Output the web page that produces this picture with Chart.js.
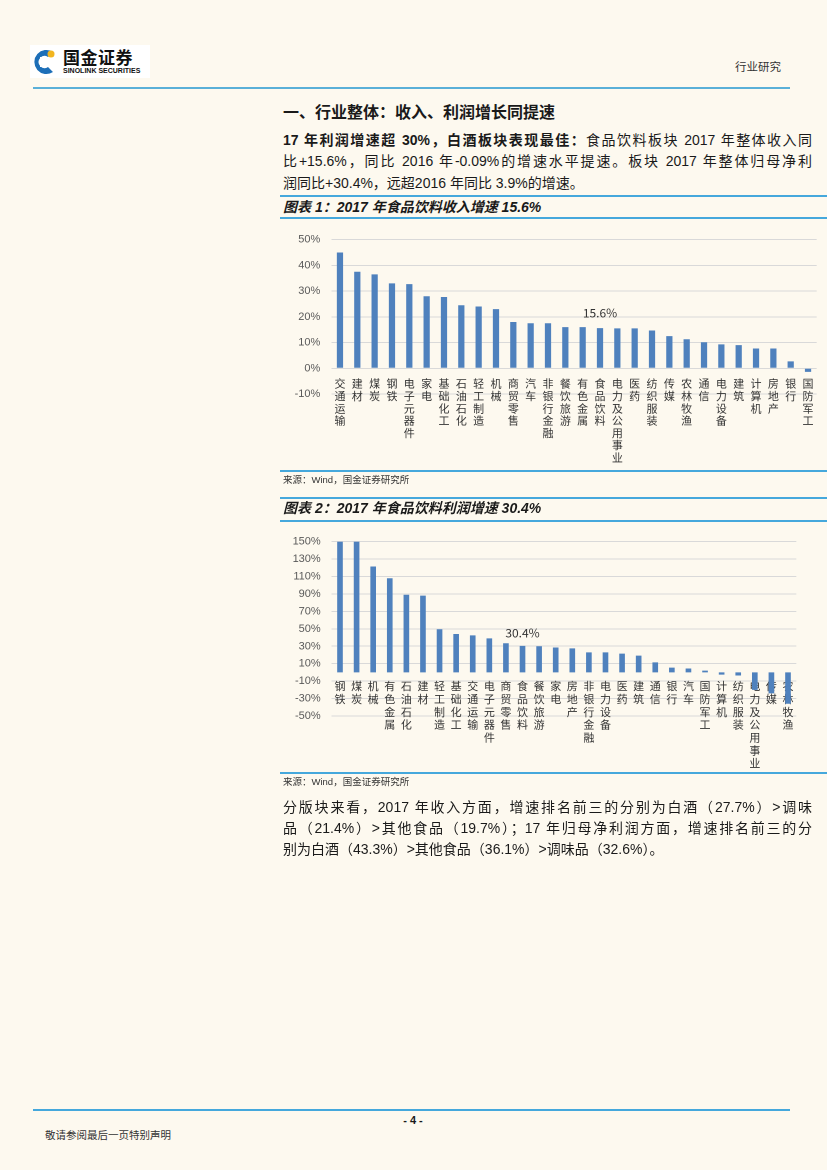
<!DOCTYPE html>
<html><head><meta charset="utf-8">
<script src="https://cdn.jsdelivr.net/npm/chart.js@4.4.1/dist/chart.umd.min.js"></script>
<style>
html,body{margin:0;padding:0;}
body{width:827px;height:1170px;background:#fdf9ef;position:relative;overflow:hidden;font-family:"Liberation Sans","Noto Sans CJK SC",sans-serif;color:#1a1a1a;}
.a{position:absolute;white-space:nowrap;}
.hl{position:absolute;height:2px;background:#45a8dc;}
.pl{position:absolute;left:283px;width:529px;font-size:14px;line-height:21px;text-align:justify;text-align-last:justify;white-space:nowrap;}
.pl.last{text-align-last:left;}
.ft{position:absolute;left:283px;font-size:14px;font-weight:bold;font-style:italic;line-height:20px;}
.src{position:absolute;left:283px;font-size:9.5px;line-height:12px;color:#333;}
canvas{position:absolute;}
</style>
</head><body>

<!-- header -->
<div class="a" style="left:30px;top:45px;width:120px;height:33px;background:#ffffff;"></div>
<svg class="a" style="left:31px;top:46px" width="28" height="31" viewBox="0 0 28 31">
  <path d="M22 6 A12 12 0 1 0 22 26 L17 21 A6 6 0 1 1 17 11 Z" fill="#1d6fb8"/>
  <rect x="9" y="11" width="8" height="10" fill="#ffffff"/>
  <circle cx="20" cy="8" r="3.5" fill="#f2b51f"/>
</svg>
<div class="a" style="left:63px;top:47px;font-size:17px;font-weight:bold;line-height:20px;font-family:'Noto Sans CJK SC';letter-spacing:0.5px;color:#111;">国金证券</div>
<div class="a" style="left:63px;top:67px;font-size:7px;font-weight:bold;line-height:8px;color:#111;">SINOLINK SECURITIES</div>
<div class="a" style="left:735px;top:59px;font-size:11.5px;line-height:14px;color:#333;font-family:'Noto Sans CJK SC';">行业研究</div>
<div class="hl" style="left:33px;top:87px;width:757px;background:#5ab0d8;"></div>

<!-- heading -->
<div class="a" style="left:283px;top:100px;font-size:16px;font-weight:bold;line-height:22px;font-family:'Noto Sans CJK SC';">一、行业整体：收入、利润增长同提速</div>

<div class="pl" style="top:129.5px;"><b>17 年利润增速超 30%，白酒板块表现最佳：</b>食品饮料板块 2017 年整体收入同</div>
<div class="pl" style="top:151px;">比+15.6%，同比 2016 年-0.09%的增速水平提速。板块 2017 年整体归母净利</div>
<div class="pl last" style="top:172.5px;">润同比+30.4%，远超2016 年同比 3.9%的增速。</div>

<div class="hl" style="left:280px;top:195px;width:547px;"></div>
<div class="ft" style="top:197px;">图表 1：2017 年食品饮料收入增速 15.6%</div>
<div class="hl" style="left:280px;top:217px;width:547px;"></div>

<canvas id="c1" style="left:270px;top:222px;width:557px;height:250px;" width="557" height="250"></canvas>

<div class="hl" style="left:280px;top:470px;width:547px;"></div>
<div class="src" style="top:474px;">来源：Wind，国金证券研究所</div>

<div class="hl" style="left:280px;top:497px;width:547px;"></div>
<div class="ft" style="top:498px;">图表 2：2017 年食品饮料利润增速 30.4%</div>
<div class="hl" style="left:280px;top:520px;width:547px;"></div>

<canvas id="c2" style="left:270px;top:524px;width:557px;height:250px;" width="557" height="250"></canvas>

<div class="hl" style="left:280px;top:772px;width:547px;"></div>
<div class="src" style="top:776px;">来源：Wind，国金证券研究所</div>

<div class="pl" style="top:796.5px;">分版块来看，2017 年收入方面，增速排名前三的分别为白酒（27.7%）&gt;调味</div>
<div class="pl" style="top:817.5px;">品（21.4%）&gt;其他食品（19.7%）；17 年归母净利润方面，增速排名前三的分</div>
<div class="pl last" style="top:838.5px;">别为白酒（43.3%）&gt;其他食品（36.1%）&gt;调味品（32.6%）。</div>

<!-- footer -->
<div class="hl" style="left:33px;top:1109px;width:757px;"></div>
<div class="a" style="left:398px;top:1113px;width:30px;text-align:center;font-size:11px;font-weight:bold;line-height:14px;">- 4 -</div>
<div class="a" style="left:45px;top:1128px;font-size:10.5px;line-height:14px;color:#333;font-family:'Noto Sans CJK SC';">敬请参阅最后一页特别声明</div>

<script>
// ---- Chart 1: 2017 revenue growth by sector ----
const revCategories = ["交通运输","建材","煤炭","钢铁","电子元器件","家电","基础化工","石油石化","轻工制造","机械","商贸零售","汽车","非银行金融","餐饮旅游","有色金属","食品饮料","电力及公用事业","医药","纺织服装","传媒","农林牧渔","通信","电力设备","建筑","计算机","房地产","银行","国防军工"];
const revValues = [45, 37.5, 36.5, 33, 32.7, 28, 27.7, 24.5, 24, 23, 18, 17.5, 17.5, 16, 16, 15.6, 15.5, 15.5, 14.7, 12.5, 11.3, 10.1, 9.3, 9, 7.7, 7.7, 2.7, -1.4];
const revTicks = {min: -10, max: 50, step: 10};
const revHighlight = "食品饮料";

// ---- Chart 2: 2017 net profit growth by sector ----
const profitCategories = ["钢铁","煤炭","机械","有色金属","石油石化","建材","轻工制造","基础化工","交通运输","电子元器件","商贸零售","食品饮料","餐饮旅游","家电","房地产","非银行金融","电力设备","医药","建筑","通信","银行","汽车","国防军工","计算机","纺织服装","电力及公用事业","传媒","农林牧渔"];
const profitValues = [150, 150, 121.5, 108, 89, 88, 49.5, 44, 42.5, 39, 33.5, 30.4, 30, 28.5, 27.5, 23, 23, 21.5, 19.3, 11.5, 5.5, 4.5, 2, -2.5, -3.5, -20, -24, -36];
const profitTicks = {min: -50, max: 150, step: 20};
const profitHighlight = "食品饮料";

const BAR_COLOR = "#4f81bd";

const valueLabel = {
  id: "valueLabel",
  afterDatasetsDraw(chart, args, opts) {
    const meta = chart.getDatasetMeta(0);
    const el = meta.data[opts.index];
    if (!el) return;
    const v = chart.data.datasets[0].data[opts.index];
    const ctx = chart.ctx;
    ctx.save();
    ctx.font = opts.font;
    ctx.fillStyle = "#333333";
    ctx.textAlign = "center";
    ctx.textBaseline = "bottom";
    ctx.fillText(v.toFixed(1) + "%", el.x, el.y - opts.gap);
    ctx.restore();
  }
};

function makeChart(id, cats, vals, ticks, hlIndex, cfg) {
  return new Chart(document.getElementById(id), {
    type: "bar",
    data: {
      labels: cats.map(s => Array.from(s)),
      datasets: [{
        data: vals,
        backgroundColor: BAR_COLOR,
        borderWidth: 0,
        barPercentage: cfg.barPct,
        categoryPercentage: 1
      }]
    },
    plugins: [valueLabel],
    options: {
      responsive: false,
      animation: false,
      devicePixelRatio: 2,
      layout: {padding: {left: 0, right: cfg.padRight, top: 12, bottom: cfg.padBottom}},
      plugins: {
        legend: {display: false},
        tooltip: {enabled: false},
        valueLabel: {index: hlIndex, font: "12px 'Noto Sans CJK SC'", gap: cfg.labelGap}
      },
      scales: {
        x: {
          position: {y: 0},
          z: 1,
          offset: true,
          grid: {display: false, drawTicks: false},
          border: {display: false},
          ticks: {
            autoSkip: false, maxRotation: 0, minRotation: 0,
            padding: cfg.xPad,
            color: "#333333",
            font: {family: "'Noto Sans CJK SC'", size: 11, lineHeight: cfg.lineH}
          },
          afterFit(s) { s.height = 0; }
        },
        y: {
          min: ticks.min, max: ticks.max,
          grid: {color: "#d9d9d9", lineWidth: 1, drawTicks: false},
          border: {display: false},
          ticks: {
            stepSize: ticks.step,
            padding: 11,
            color: "#595959",
            font: {family: "'Liberation Sans'", size: 11},
            callback: v => v + "%"
          },
          afterFit(s) { s.width = cfg.yWidth; }
        }
      }
    }
  });
}

makeChart("c1", revCategories, revValues, revTicks, revCategories.indexOf(revHighlight),
  {barPct: 0.36, padRight: 10.3, padBottom: 78, xPad: 9, lineH: 1.12, labelGap: 9, yWidth: 61.3});
makeChart("c2", profitCategories, profitValues, profitTicks, profitCategories.indexOf(profitHighlight),
  {barPct: 0.34, padRight: 30.7, padBottom: 58, xPad: 7, lineH: 1.17, labelGap: 7, yWidth: 61.7});
</script>
</body></html>
